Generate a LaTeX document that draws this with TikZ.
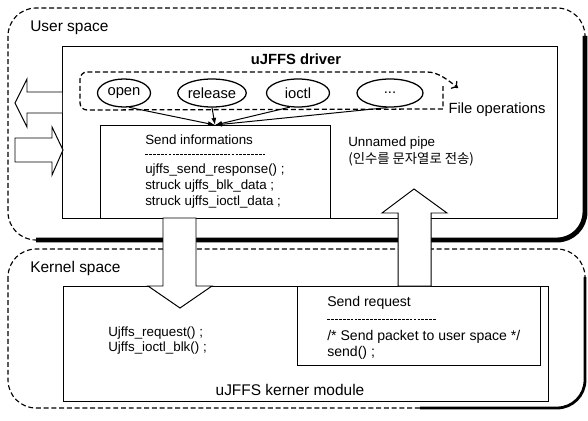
\documentclass[tikz,border=0pt]{standalone}
\usepackage{fontspec}
\setmainfont{Liberation Sans}
\newfontfamily\krfont{Noto Sans CJK KR}
\usetikzlibrary{arrows.meta,shapes.geometric}

\tikzset{
  spacebox/.style={dash pattern=on 3.5pt off 2pt, line width=0.8pt, rounded corners=7mm},
  spaceshadow/.style={line width=3.5pt, rounded corners=7mm},
  box/.style={draw, line width=0.7pt, inner sep=0pt, outer sep=0pt},
  fileop/.style={draw, ellipse, line width=0.9pt, minimum height=7mm, inner sep=0pt, font=\fontsize{10.5}{12}\selectfont},
  code/.style={anchor=west, inner sep=0pt, font=\fontsize{9.5}{11}\selectfont},
  title/.style={inner sep=0pt, font=\fontsize{11}{13}\selectfont},
  sepline/.style={dash pattern=on 2pt off 0.8pt, line width=0.5pt},
  bigarrow/.style={draw, fill=white, line width=0.7pt},
  callarrow/.style={-{Latex[length=5pt,width=3.5pt]}, line width=0.7pt},
}

\begin{document}
\begin{tikzpicture}[x=0.25mm,y=-0.25mm]
  \useasboundingbox (0,0) rectangle (588,420);
  % user space and kernel space
  \draw[spacebox] (8,8) rectangle (585,240);
  \draw[spaceshadow] (585,36) -- (585,240) -- (36,240);
  \draw[spacebox] (8,249) rectangle (585,408);
  \draw[spaceshadow, line width=2pt] (585,277) -- (585,408) -- (420,408);
  \node[title, anchor=west] (utitle) at (30,28) {User space};
  \node[title, anchor=west] (ktitle) at (30,268) {Kernel space};

  % boxes
  \node[box, minimum width=123.75mm, minimum height=43mm] (driver) at (309.5,132) {};
  \node[box, minimum width=57.5mm, minimum height=23.25mm] (sinfo) at (215,171.5) {};
  \node[box, minimum width=121.25mm, minimum height=28.75mm] (kmod) at (305.5,343.5) {};
  \node[box, minimum width=60.75mm, minimum height=19.75mm] (sreq) at (418.5,325.5) {};
  \node[inner sep=0pt, font=\bfseries\fontsize{10.5}{12}\selectfont] (dtitle) at (296,59) {uJFFS driver};
  \node[title] (mtitle) at (290,390) {uJFFS kerner module};

  % file operations
  \draw[dash pattern=on 3.5pt off 2pt, line width=0.9pt, -{To[length=4pt,width=7pt]}]
    (443,86) -- (443,109) [rounded corners=5pt] -- (80,110) -- (80,72) -- (420,72)
    [sharp corners] .. controls (438,72) and (448,80) .. (458,88);
  \node[fileop, minimum width=13.25mm] (open) at (124,93) {open};
  \node[fileop, minimum width=15.25mm] (release) at (212,93) {release};
  \node[fileop, minimum width=15.75mm] (ioctl) at (298,93) {ioctl};
  \node[fileop, minimum width=16.5mm] (etc) at (390,93) {...};
  \node[inner sep=0pt, font=\fontsize{10.5}{12}\selectfont] (fotitle) at (497,110) {File operations};
  \draw[callarrow] (open.-70) -- (sinfo.north);
  \draw[callarrow] (release.south) -- (sinfo.north);
  \draw[callarrow] (ioctl.-120) -- (sinfo.north);
  \draw[callarrow] (etc.-100) -- (sinfo.north);

  % send informations
  \node[code] (si0) at (145,140) {Send informations};
  \draw[sepline] (145,154) -- (265,154);
  \node[code] (si1) at (145,170) {ujffs\_send\_response() ;};
  \node[code] (si2) at (145,186) {struck ujffs\_blk\_data ;};
  \node[code] (si3) at (145,202) {struck ujffs\_ioctl\_data ;};

  \node[code] (pipe) at (348,143) {Unnamed pipe};
  \node[code, font=\krfont\fontsize{9.5}{11}\selectfont] (pipekr) at (348,159) {(인수를 문자열로 전송)};

  % kernel module
  \node[code] (k1) at (108,333) {Ujffs\_request() ;};
  \node[code] (k2) at (108,348) {Ujffs\_ioctl\_blk() ;};
  \node[code, font=\fontsize{10}{12}\selectfont] (sr0) at (327,303) {Send request};
  \draw[sepline] (327,319) -- (437,319);
  \node[code, font=\fontsize{10}{12}\selectfont] (sr1) at (327,337) {/* Send packet to user space */};
  \node[code, font=\fontsize{10}{12}\selectfont] (sr2) at (327,353) {send() ;};

  % hollow arrows
  \draw[bigarrow] (62,92) -- (27,92) -- (27,79) -- (15,103) -- (27,127) -- (27,113) -- (62,113);
  \draw[bigarrow] (15,138) -- (52,138) -- (52,127) -- (63,150) -- (52,175) -- (52,162) -- (15,162) -- cycle;
  \draw[bigarrow] (163,218) -- (196,218) -- (196,286) -- (212,286) -- (180,308) -- (148,286) -- (163,286) -- cycle;
  \draw[bigarrow] (398,286) -- (398,213) -- (382,213) -- (414,189) -- (447,213) -- (431,213) -- (431,286) -- cycle;
\end{tikzpicture}
\end{document}
